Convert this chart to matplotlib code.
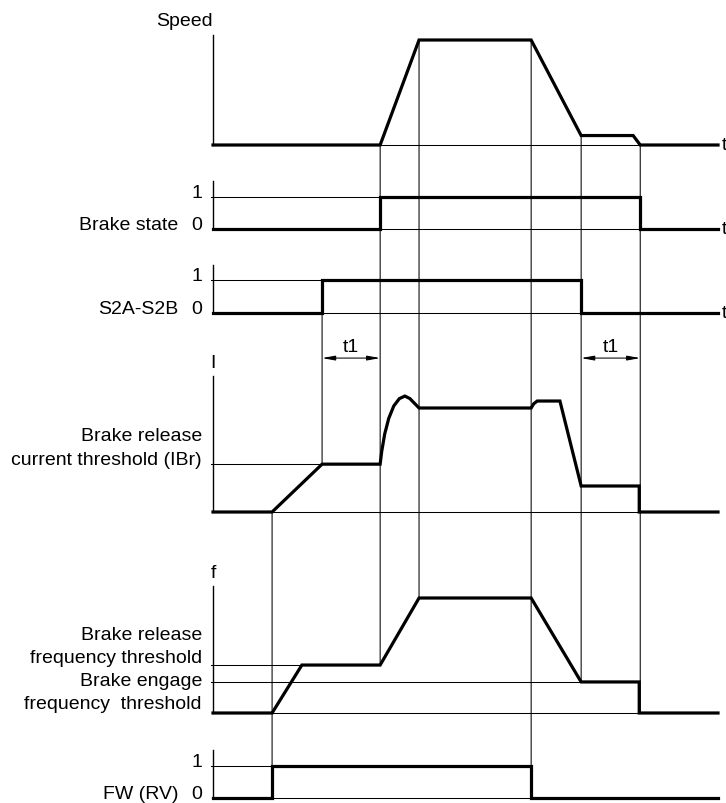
import matplotlib
matplotlib.use("Agg")
import matplotlib.pyplot as plt
from matplotlib.patches import ConnectionPatch

plt.rcParams["font.family"] = ["Liberation Sans", "DejaVu Sans"]
plt.rcParams["font.size"] = 14

W, H = 726, 804

# event times (time axis runs 0..100)
t_fw_on = 11.7
t_f_rel = 17.6
t_s2a_on = 21.6
t_brake_on = 33.1
t_top = 40.8
t_fw_off = 63.0
t_s2a_off = 72.9
t_slow_end = 83.2
t_brake_off = 84.5
t_end = 100

# levels
speed_low = 0.09
ibr_level = 0.46
i_low = 0.25
f_release = 0.417
f_engage = 0.27

speed_t = [0, t_brake_on, t_top, t_fw_off, t_s2a_off, t_slow_end, 84.6, t_end]
speed_v = [0, 0, 1, 1, speed_low, speed_low, 0, 0]

brake_t = [0, t_brake_on, t_brake_on, t_brake_off, t_brake_off, t_end]
brake_v = [0, 0, 1, 1, 0, 0]

s2a_t = [0, t_s2a_on, t_s2a_on, t_s2a_off, t_s2a_off, t_end]
s2a_v = [0, 0, 1, 1, 0, 0]

cur_t = [0, t_fw_on, t_s2a_on, t_brake_on, 33.4, 34.0, 34.8, 35.8, 36.9, 38.0, 39.0, 39.8,
         t_top, t_fw_off, 63.5, 64.2, 68.7, t_s2a_off, 84.4, 84.4, t_end]
cur_v = [0, 0, ibr_level, ibr_level, 0.58, 0.75, 0.90, 1.02, 1.09, 1.115, 1.09, 1.05,
         1.0, 1.0, 1.04, 1.067, 1.067, i_low, i_low, 0, 0]

freq_t = [0, t_fw_on, t_f_rel, t_brake_on, t_top, t_fw_off, t_s2a_off, 84.4, 84.4, t_end]
freq_v = [0, 0, f_release, f_release, 1, 1, f_engage, f_engage, 0, 0]

fw_t = [0, t_fw_on, t_fw_on, t_fw_off, t_fw_off, t_end]
fw_v = [0, 0, 1, 1, 0, 0]

THICK = 2.3
THIN = 0.75

fig = plt.figure(figsize=(W / 100, H / 100), dpi=100)


def panel(y0, y1, ytop):
    # y0: pixel row of level 0, y1: row of level 1, ytop: top of axis line
    ax = fig.add_axes([213 / W, 1 - y0 / H, 505 / W, (y0 - ytop) / H])
    ax.set_xlim(0, t_end)
    ax.set_ylim(0, (y0 - ytop) / (y0 - y1))
    ax.patch.set_alpha(0)
    for s in ["top", "right"]:
        ax.spines[s].set_visible(False)
    ax.spines["left"].set_linewidth(1.0)
    ax.spines["bottom"].set_linewidth(THIN)
    ax.set_xticks([])
    ax.set_yticks([])
    return ax


ax_speed = panel(146, 41, 36)
ax_brake = panel(230, 198, 182)
ax_s2a = panel(314, 281, 266)
ax_cur = panel(513, 409, 377)
ax_freq = panel(714, 599, 587)
ax_fw = panel(799, 767, 751)

# signals
for ax, xs, ys in [(ax_speed, speed_t, speed_v), (ax_brake, brake_t, brake_v),
                   (ax_s2a, s2a_t, s2a_v), (ax_cur, cur_t, cur_v),
                   (ax_freq, freq_t, freq_v), (ax_fw, fw_t, fw_v)]:
    ax.plot(xs, ys, color="black", lw=THICK, clip_on=False, solid_joinstyle="miter")

# thin reference levels
ax_brake.plot([-0.4, t_brake_on], [1, 1], color="black", lw=THIN, clip_on=False)
ax_s2a.plot([-0.4, t_s2a_on], [1, 1], color="black", lw=THIN, clip_on=False)
ax_fw.plot([-0.4, t_fw_on], [1, 1], color="black", lw=THIN, clip_on=False)
ax_cur.plot([-0.4, t_s2a_on], [ibr_level, ibr_level], color="black", lw=THIN, clip_on=False)
ax_freq.plot([-0.4, t_f_rel], [f_release, f_release], color="black", lw=THIN, clip_on=False)
ax_freq.plot([-0.4, t_s2a_off], [f_engage, f_engage], color="black", lw=THIN, clip_on=False)

# vertical cursors across panels
cursors = [
    (t_fw_on, ax_cur, 0, ax_fw, 1),
    (t_s2a_on, ax_s2a, 1, ax_cur, ibr_level),
    (t_brake_on, ax_speed, 0, ax_freq, f_release),
    (t_top, ax_speed, 1, ax_freq, 1),
    (t_fw_off, ax_speed, 1, ax_fw, 0),
    (t_s2a_off, ax_speed, speed_low, ax_freq, f_engage),
    (84.6, ax_speed, 0, ax_freq, 0),
]
for t, a1, l1, a2, l2 in cursors:
    cp = ConnectionPatch(xyA=(t, l1), coordsA="data", axesA=a1,
                         xyB=(t, l2), coordsB="data", axesB=a2,
                         color="black", lw=THIN)
    fig.add_artist(cp)

# t1 arrows
for a, b in [(t_s2a_on, t_brake_on), (t_s2a_off, 84.6)]:
    ax_cur.annotate("", xy=(a, 1.48), xytext=(b, 1.48), annotation_clip=False,
                    arrowprops=dict(arrowstyle="<|-|>,head_width=0.1,head_length=0.55",
                                    color="black", lw=THIN, shrinkA=0, shrinkB=0))
    ax_cur.annotate("t1", xy=((a + b) / 2, 1.48), xytext=(0, 2), textcoords="offset points",
                    ha="center", va="bottom", annotation_clip=False)


def left_label(ax, text, level, dx):
    ax.annotate(text, xy=(0, level), xytext=(dx, 0), textcoords="offset points",
                ha="right", va="baseline", annotation_clip=False)


for ax, name in [(ax_brake, "Brake state"), (ax_s2a, "S2A-S2B"), (ax_fw, "FW (RV)")]:
    left_label(ax, "1", 1, -8)
    left_label(ax, "0", 0, -8)
    left_label(ax, name, 0, -25)

left_label(ax_cur, "current threshold (IBr)", ibr_level, -8)
ax_cur.annotate("Brake release", xy=(0, ibr_level), xytext=(-8, 17.5), textcoords="offset points",
                ha="right", va="baseline", annotation_clip=False)

ax_freq.annotate("Brake release", xy=(0, f_release), xytext=(-8, 19), textcoords="offset points",
                 ha="right", va="baseline", annotation_clip=False)
ax_freq.annotate("frequency threshold", xy=(0, f_release), xytext=(-8, 2), textcoords="offset points",
                 ha="right", va="baseline", annotation_clip=False)
ax_freq.annotate("Brake engage", xy=(0, f_engage), xytext=(-8, -2), textcoords="offset points",
                 ha="right", va="baseline", annotation_clip=False)
ax_freq.annotate("frequency  threshold", xy=(0, 0), xytext=(-8, 3.5), textcoords="offset points",
                 ha="right", va="baseline", annotation_clip=False)

# axis names
fig.text(184 / W, 1 - 21 / H, "Speed", ha="center", va="center")
fig.text(213 / W, 1 - 364 / H, "I", ha="center", va="center")
fig.text(213 / W, 1 - 574 / H, "f", ha="center", va="center")

for ax in [ax_speed, ax_brake, ax_s2a]:
    ax.annotate("t", xy=(t_end, 0), xytext=(3, 0), textcoords="offset points",
                ha="left", va="center", annotation_clip=False)

fig.savefig("out.png", dpi=100)
